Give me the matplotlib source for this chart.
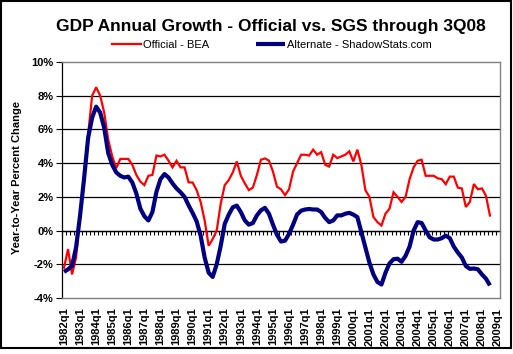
import matplotlib
matplotlib.use("Agg")
import matplotlib.pyplot as plt
from matplotlib.patches import Rectangle
import numpy as np

plt.rcParams['font.family'] = ['Liberation Sans', 'DejaVu Sans']

# ---------------- data ----------------
title = "GDP Annual Growth - Official vs. SGS through 3Q08"
series_names = ["Official - BEA", "Alternate - ShadowStats.com"]
years = list(range(1982, 2010))
tick_labels = [f"{y}q1" for y in years]
n_categories = 109  # 1982q1 .. 2009q1

official = [
    -2.2, -1.1, -2.6, -1.6, 1.0, 3.3, 5.7, 8.0, 8.5, 8.0,
    7.0, 5.4, 4.4, 3.7, 4.25, 4.25, 4.25, 3.9, 3.3, 2.9,
    2.7, 3.25, 3.3, 4.45, 4.4, 4.5, 4.15, 3.75, 4.14, 3.75,
    3.75, 2.86, 2.85, 2.4, 1.7, 0.6, -0.9, -0.5, 0.0, 1.6,
    2.7, 3.0, 3.45, 4.1, 3.25, 2.8, 2.4, 2.55, 3.3, 4.2,
    4.28, 4.15, 3.5, 2.6, 2.45, 2.1, 2.45, 3.5, 4.0, 4.5,
    4.5, 4.45, 4.8, 4.5, 4.65, 3.9, 3.8, 4.5, 4.3, 4.4,
    4.5, 4.7, 4.1, 4.8, 3.9, 2.4, 2.0, 0.8, 0.5, 0.3,
    1.0, 1.3, 2.27, 2.0, 1.7, 2.0, 3.05, 3.75, 4.14, 4.2,
    3.25, 3.25, 3.25, 3.1, 3.05, 2.75, 3.2, 3.2, 2.55, 2.5,
    1.4, 1.7, 2.76, 2.45, 2.5, 2.07, 0.89,
]

alternate = [
    -2.45, -2.3, -2.1, -1.0, 0.9, 3.1, 5.5, 6.7, 7.35, 7.0,
    6.1, 4.6, 3.9, 3.45, 3.25, 3.15, 3.2, 2.85, 2.2, 1.3,
    0.85, 0.6, 1.1, 2.3, 3.05, 3.35, 3.15, 2.8, 2.5, 2.27,
    2.0, 1.5, 1.05, 0.55, -0.3, -1.6, -2.5, -2.75, -2.0, -0.9,
    0.4, 0.95, 1.38, 1.48, 1.1, 0.6, 0.35, 0.45, 0.9, 1.2,
    1.35, 1.0, 0.35, -0.25, -0.65, -0.6, -0.2, 0.35, 0.95, 1.18,
    1.25, 1.28, 1.25, 1.25, 1.1, 0.75, 0.5, 0.6, 0.9, 0.9,
    1.0, 1.05, 0.95, 0.8, -0.1, -1.0, -1.9, -2.6, -3.05, -3.2,
    -2.5, -1.95, -1.7, -1.67, -1.85, -1.5, -0.95, 0.0, 0.5, 0.45,
    0.0, -0.4, -0.53, -0.53, -0.45, -0.3, -0.45, -0.95, -1.3, -1.6,
    -2.1, -2.27, -2.25, -2.3, -2.6, -2.85, -3.25,
]

y_ticks = [-4, -2, 0, 2, 4, 6, 8, 10]
y_tick_labels = ["-4%", "-2%", "0%", "2%", "4%", "6%", "8%", "10%"]

# ---------------- figure ----------------
W, H = 513, 354
fig = plt.figure(figsize=(W / 100, H / 100), dpi=100)
fig.patch.set_facecolor('white')

L, R, T, B = 62, 500, 62, 298
ax = fig.add_axes([L / W, 1 - B / H, (R - L) / W, (B - T) / H])
ax.set_facecolor('white')

ax.set_xlim(-0.5, n_categories - 0.5)
ax.set_ylim(-4, 10)

# gridlines
for v in y_ticks[1:-1]:
    ax.axhline(v, color='black', lw=0.9, zorder=1)

ax.plot(range(len(official)), official, color='#FF0000', lw=1.6, zorder=3,
        label=series_names[0], solid_joinstyle='miter')
ax.plot(range(len(alternate)), alternate, color='#000080', lw=3.0, zorder=4,
        label=series_names[1], solid_joinstyle='round', solid_capstyle='butt')

# y axis
ax.set_yticks(y_ticks)
ax.set_yticklabels(y_tick_labels, fontsize=8, fontweight='bold')
ax.tick_params(axis='y', length=4, width=0.8, direction='out', pad=2, color='black')

# x axis labels at bottom
ax.set_xticks(range(0, n_categories, 4))
ax.set_xticklabels(tick_labels, rotation=90, fontsize=8, fontweight='bold')
ax.tick_params(axis='x', length=0, pad=7)

for s in ['top', 'right', 'bottom']:
    ax.spines[s].set_color('#808080')
    ax.spines[s].set_linewidth(1.0)
ax.spines['left'].set_color('black')
ax.spines['left'].set_linewidth(0.9)

# category axis crossing at zero with tick marks
sec = ax.secondary_xaxis(4 / 14)
sec.set_xticks(np.arange(-0.5, n_categories, 1.0))
sec.tick_params(axis='x', length=3, width=0.8, direction='out', labelbottom=False, color='black')
sec.spines['bottom'].set_color('black')
sec.spines['bottom'].set_linewidth(0.9)

# title
fig.text(271 / W, 1 - 27 / H, title, ha='center', va='center',
         fontsize=12.5, fontweight='bold')

# y label
fig.text(17 / W, 1 - 178 / H, "Year-to-Year Percent Change", rotation=90,
         ha='center', va='center', fontsize=8, fontweight='bold')

# legend
leg = fig.legend(loc='center', bbox_to_anchor=(272 / W, 1 - 45 / H), ncol=2,
                 frameon=False, fontsize=8, handlelength=2.6, handletextpad=0.2,
                 columnspacing=4.2, borderpad=0)

# outer border
fig.patches.append(Rectangle((0.5 / W, 1 - 348 / H), 510.5 / W, 347.5 / H,
                             transform=fig.transFigure, fill=False,
                             edgecolor='black', lw=1.5))

fig.savefig('out.png', dpi=100, facecolor='white')
